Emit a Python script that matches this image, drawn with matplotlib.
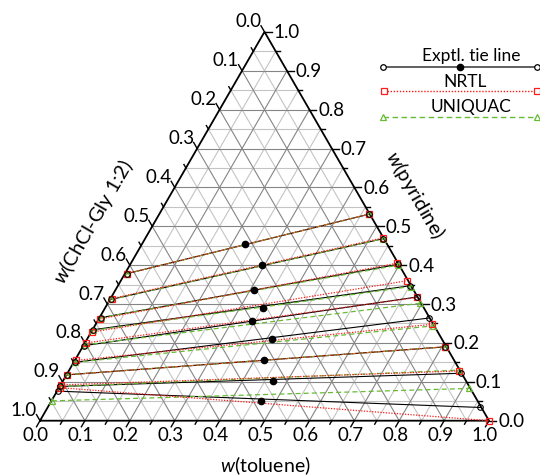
import numpy as np
import matplotlib
matplotlib.use('Agg')
import matplotlib.pyplot as plt

plt.rcParams['font.family'] = ['Lato', 'DejaVu Sans']
plt.rcParams['mathtext.fontset'] = 'custom'
plt.rcParams['mathtext.rm'] = 'Lato'
plt.rcParams['mathtext.it'] = 'Lato:italic'

# ---------------- data (mass fractions) ----------------
# experimental tie lines: ChCl-Gly-rich phase (left), toluene-rich phase (right), feed
exp_L_tol = [0.004, 0.003, 0.003, 0.002, 0.002, 0.002, 0.001, 0.001, 0.001]
exp_L_pyr = [0.378, 0.312, 0.265, 0.234, 0.193, 0.150, 0.118, 0.088, 0.076]
exp_R_tol = [0.467, 0.530, 0.596, 0.651, 0.680, 0.734, 0.808, 0.876, 0.964]
exp_R_pyr = [0.531, 0.468, 0.402, 0.347, 0.318, 0.264, 0.190, 0.122, 0.034]
feed_tol = [0.230, 0.295, 0.309, 0.352, 0.344, 0.411, 0.421, 0.468, 0.467]
feed_pyr = [0.454, 0.400, 0.336, 0.291, 0.257, 0.210, 0.156, 0.103, 0.050]

# NRTL calculated tie lines
nrtl_L_tol = [0.004, 0.003, 0.003, 0.002, 0.002, 0.002, 0.001, 0.001, 0.001]
nrtl_L_pyr = [0.378, 0.314, 0.262, 0.228, 0.200, 0.155, 0.118, 0.092, 0.085]
nrtl_R_tol = [0.467, 0.528, 0.593, 0.638, 0.681, 0.750, 0.808, 0.870, 1.000]
nrtl_R_pyr = [0.531, 0.470, 0.405, 0.360, 0.317, 0.248, 0.190, 0.128, 0.000]

# UNIQUAC calculated tie lines
uniq_L_tol = [0.004, 0.003, 0.003, 0.002, 0.002, 0.002, 0.001, 0.001, 0.001]
uniq_L_pyr = [0.378, 0.312, 0.265, 0.232, 0.195, 0.150, 0.118, 0.088, 0.051]
uniq_R_tol = [0.467, 0.530, 0.598, 0.653, 0.696, 0.754, 0.808, 0.868, 0.915]
uniq_R_pyr = [0.531, 0.468, 0.400, 0.345, 0.302, 0.244, 0.190, 0.130, 0.083]

tick_vals = [round(0.1 * i, 1) for i in range(11)]
bottom_title = r'$w$(toluene)'
right_title = r'$w$(pyridine)'
left_title = r'$w$(ChCl-Gly 1:2)'
legend_labels = ['Exptl. tie line', 'NRTL', 'UNIQUAC']

# ---------------- helpers ----------------
S = 449.0          # pixels per unit triangle side
px = 1.0 / S
H = np.sqrt(3) / 2


def tern(t, p):
    t = np.asarray(t, float)
    p = np.asarray(p, float)
    return t + p / 2.0, p * H


fig = plt.figure(figsize=(5.4, 4.77), dpi=100)
ax = fig.add_axes([0, 0, 1, 1])
ax.set_xlim(-40 * px, 500 * px)
ax.set_ylim(-55.3 * px, (477 - 55.3) * px)
ax.axis('off')

major_c = '#858585'
minor_c = '#c4c4c4'

# grid
for k in range(1, 20):
    v = k * 0.05
    col = major_c if k % 2 == 0 else minor_c
    z = 1 if k % 2 == 0 else 0.5
    segs = [((0, v), (1 - v, v)),          # constant pyridine
            ((v, 0), (v, 1 - v)),          # constant toluene
            ((0, 1 - v), (1 - v, 0))]      # constant ChCl
    for (t0, p0), (t1, p1) in segs:
        x, y = tern([t0, t1], [p0, p1])
        ax.plot(x, y, color=col, lw=0.8, zorder=z)

# triangle edges
x, y = tern([0, 1, 0, 0], [0, 0, 1, 0])
ax.plot(x, y, color='black', lw=1.3, zorder=5, solid_joinstyle='miter')

# ticks & labels
fs = 13.5
for k in range(21):
    v = k * 0.05
    L = 7 * px if k % 2 == 0 else 4 * px
    # bottom (toluene)
    x0, y0 = tern(v, 0)
    d = np.array([-0.5, -H])
    ax.plot([x0, x0 + L * d[0]], [y0, y0 + L * d[1]], color='black', lw=1.0, zorder=5)
    # right (pyridine)
    x1, y1 = tern(1 - v, v)
    ax.plot([x1, x1 + L], [y1, y1], color='black', lw=1.0, zorder=5)
    # left (ChCl)
    x2, y2 = tern(0, 1 - v)
    d = np.array([-0.5, H])
    ax.plot([x2, x2 + L * d[0]], [y2, y2 + L * d[1]], color='black', lw=1.0, zorder=5)

for v in tick_vals:
    lab = f'{v:.1f}'
    x0, y0 = tern(v, 0)
    ax.text(x0 - 4 * px, y0 - 14 * px, lab, ha='center', va='center', fontsize=fs)
    x1, y1 = tern(1 - v, v)
    ax.text(x1 + 9 * px, y1, lab, ha='left', va='center', fontsize=fs)
    x2, y2 = tern(0, 1 - v)
    ax.text(x2 - 3 * px, y2 + 11 * px, lab, ha='right', va='center', fontsize=fs)

# axis titles
ax.text(225 * px, -44.3 * px, bottom_title, ha='center', va='center', fontsize=14)
ax.text(375 * px, 226.7 * px, right_title, ha='center', va='center', fontsize=14.5, rotation=-60)
ax.text(53 * px, 199.7 * px, left_title, ha='center', va='center', fontsize=14.5, rotation=60)

# tie lines
red = '#ff1a1a'
green = '#66bb33'
for i in range(len(exp_L_pyr)):
    # experimental
    x, y = tern([exp_L_tol[i], exp_R_tol[i]], [exp_L_pyr[i], exp_R_pyr[i]])
    ax.plot(x, y, color='black', lw=0.8, zorder=6)
    ax.plot(x, y, ls='none', marker='o', ms=4.0, mfc='none', mec='black', mew=0.8, zorder=9)
    # UNIQUAC
    x, y = tern([uniq_L_tol[i], uniq_R_tol[i]], [uniq_L_pyr[i], uniq_R_pyr[i]])
    ax.plot(x, y, color=green, lw=0.9, ls=(0, (4, 2.5)), zorder=7)
    ax.plot(x, y, ls='none', marker='^', ms=4.5, mfc='none', mec=green, mew=0.9, zorder=8)
    # NRTL
    x, y = tern([nrtl_L_tol[i], nrtl_R_tol[i]], [nrtl_L_pyr[i], nrtl_R_pyr[i]])
    ax.plot(x, y, color=red, lw=0.9, ls=(0, (1, 1.2)), zorder=7.5)
    ax.plot(x, y, ls='none', marker='s', ms=4.0, mfc='none', mec=red, mew=0.9, zorder=8)

fx, fy = tern(feed_tol, feed_pyr)
ax.plot(fx, fy, ls='none', marker='o', ms=4.5, color='black', zorder=10)

# legend (text above line samples)
lg = fig.add_axes([370 / 540, (477 - 125) / 477, 170 / 540, 85 / 477])
lg.set_xlim(370, 540)
lg.set_ylim(125, 40)
lg.axis('off')
lg.plot([383, 537], [67.7, 67.7], color='#444444', lw=1.2)
lg.plot([383, 537], [67.7, 67.7], ls='none', marker='o', ms=4.0, mfc='white', mec='black', mew=0.9, clip_on=False)
lg.plot([460], [67.7], ls='none', marker='o', ms=4.5, color='black')
lg.text(471, 56, legend_labels[0], ha='center', va='center', fontsize=12.5)
lg.plot([384, 537], [91.7, 91.7], color=red, lw=1.0, ls=(0, (1, 1.2)))
lg.plot([384, 537], [91.7, 91.7], ls='none', marker='s', ms=4.0, mfc='white', mec=red, mew=0.9, clip_on=False)
lg.text(465, 82, legend_labels[1], ha='center', va='center', fontsize=12.5)
lg.plot([383, 537], [117.5, 117.5], color=green, lw=1.0, ls=(0, (4, 2.5)))
lg.plot([383, 537], [117.5, 117.5], ls='none', marker='^', ms=4.5, mfc='white', mec=green, mew=0.9, clip_on=False)
lg.text(471, 107, legend_labels[2], ha='center', va='center', fontsize=12.5)

fig.savefig('out.png', dpi=100)
